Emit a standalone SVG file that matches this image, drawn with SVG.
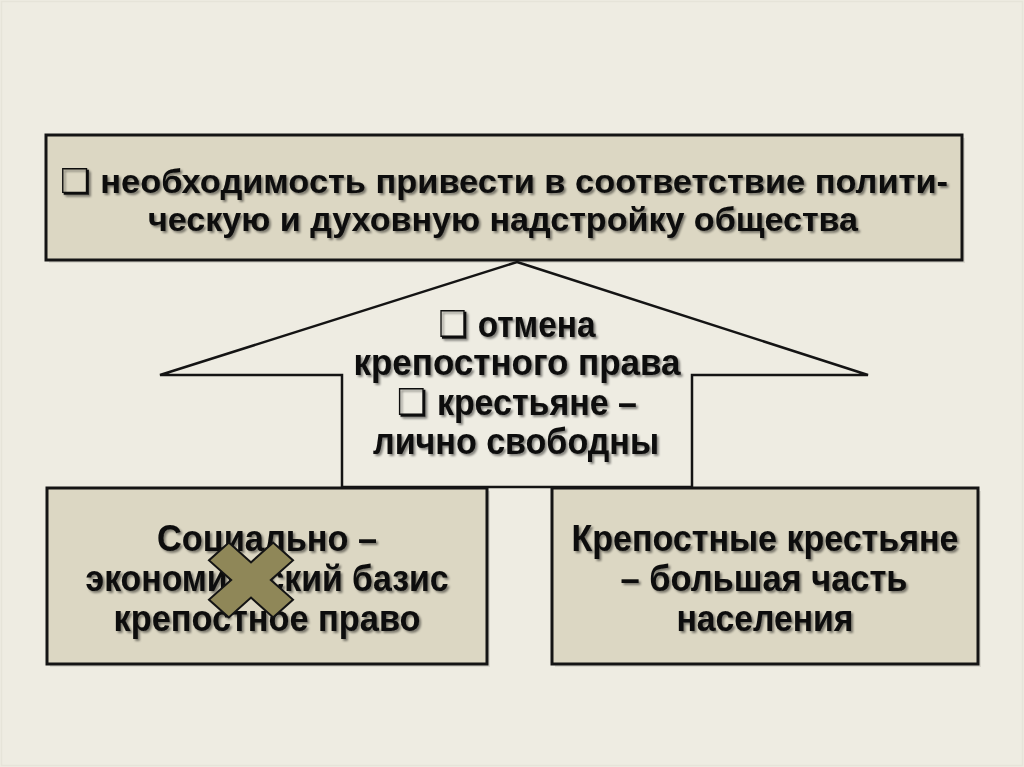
<svg xmlns="http://www.w3.org/2000/svg" width="1024" height="767" viewBox="0 0 1024 767">
  <defs>
    <filter id="ts" x="-5%" y="-20%" width="110%" height="150%">
      <feDropShadow dx="2" dy="2" stdDeviation="1.2" flood-color="#000" flood-opacity="0.45"/>
    </filter>
  </defs>
  <style>
    .box { fill: #dcd7c3; stroke: #141414; stroke-width: 3; }
    .shadow { fill: #d9d7cd; }
    .arrow { fill: #eeece2; stroke: #141414; stroke-width: 2.5; stroke-linejoin: miter; }
    .t { font-family: "Liberation Sans", Arial, "DejaVu Sans", sans-serif; font-weight: bold; fill: #0a0a0a; text-anchor: middle; filter: url(#ts); }
    .top { font-size: 34px; }
    .mid { font-size: 37px; }
    .bot { font-size: 37px; }
    .cross { fill: #8f8758; stroke: #141414; stroke-width: 2; stroke-linejoin: miter; }
  </style>
  <rect x="0" y="0" width="1024" height="767" fill="#eeece2"/>
  <rect x="1.5" y="1.5" width="1021" height="764" fill="none" stroke="#e6e4d9" stroke-width="1.5"/>

  <g id="node-top">
    <rect class="shadow" x="49" y="138" width="916" height="125"/>
    <rect class="box" x="46" y="135" width="916" height="125"/>
    <text class="t top" x="504" y="193" textLength="888" lengthAdjust="spacingAndGlyphs">❏ необходимость привести в соответствие  полити-</text>
    <text class="t top" x="503" y="231" textLength="710" lengthAdjust="spacingAndGlyphs">ческую и духовную надстройку общества</text>
  </g>

  <g id="node-arrow">
    <polygon class="arrow" points="517,262 868,375 692,375 692,487 342,487 342,375 160,375"/>
    <text class="t mid" x="517" y="337" textLength="157" lengthAdjust="spacingAndGlyphs">❏ отмена</text>
    <text class="t mid" x="517" y="375" textLength="327" lengthAdjust="spacingAndGlyphs">крепостного права</text>
    <text class="t mid" x="517" y="415" textLength="240" lengthAdjust="spacingAndGlyphs">❏ крестьяне –</text>
    <text class="t mid" x="516" y="454" textLength="286" lengthAdjust="spacingAndGlyphs">лично свободны</text>
  </g>

  <g id="node-left">
    <rect class="shadow" x="50" y="491" width="440" height="176"/>
    <rect class="box" x="47" y="488" width="440" height="176"/>
    <text class="t bot" x="267" y="551" textLength="220" lengthAdjust="spacingAndGlyphs">Социально –</text>
    <text class="t bot" x="267" y="591" textLength="363" lengthAdjust="spacingAndGlyphs">экономический базис</text>
    <text class="t bot" x="267" y="631" textLength="307" lengthAdjust="spacingAndGlyphs">крепостное право</text>
  </g>

  <g id="node-cross">
    <polygon class="cross" transform="translate(251,580) scale(1.08,0.96) rotate(45)" points="-13,-42 13,-42 13,-13 42,-13 42,13 13,13 13,42 -13,42 -13,13 -42,13 -42,-13 -13,-13"/>
  </g>

  <g id="node-right">
    <rect class="shadow" x="555" y="491" width="426" height="176"/>
    <rect class="box" x="552" y="488" width="426" height="176"/>
    <text class="t bot" x="765" y="551" textLength="387" lengthAdjust="spacingAndGlyphs">Крепостные крестьяне</text>
    <text class="t bot" x="764" y="591" textLength="287" lengthAdjust="spacingAndGlyphs">– большая часть</text>
    <text class="t bot" x="765" y="631" textLength="177" lengthAdjust="spacingAndGlyphs">населения</text>
  </g>

  <g id="connectors"></g>
</svg>
